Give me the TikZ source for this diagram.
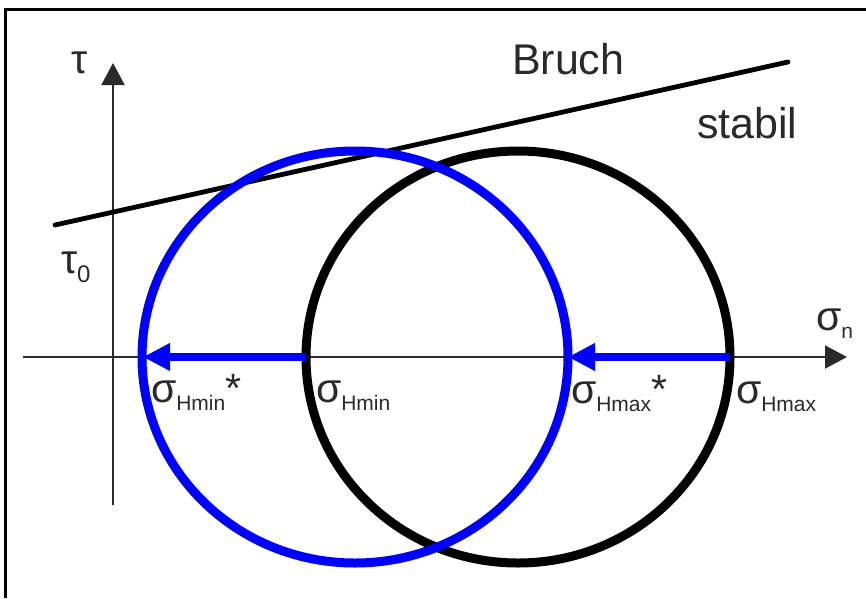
\documentclass[tikz,border=0pt]{standalone}
\usepackage{fontspec}
\setmainfont{Liberation Sans}
\usetikzlibrary{arrows.meta}
\definecolor{txt}{HTML}{2A2A2A}
\definecolor{axisc}{HTML}{2A2A2A}
\definecolor{mblue}{RGB}{0,0,255}
\newcommand{\bigf}{\fontsize{41}{45}\selectfont}
\newcommand{\subf}{\fontsize{21}{24}\selectfont}
\newcommand{\zerof}{\fontsize{24}{26}\selectfont}
\begin{document}
\begin{tikzpicture}[x=1pt,y=-1pt,
  lbl/.style={anchor=base west,inner sep=0pt,outer sep=0pt,text=txt},
  axisline/.style={draw=axisc,line width=2pt,-{Triangle[length=22pt,width=23pt]}},
  shiftarrow/.style={draw=mblue,line width=8pt,-{Triangle[length=27pt,width=26pt]}},
  frameline/.style={draw=black,line width=3pt}]
\useasboundingbox (0,0) rectangle (866,598);
% frame
\coordinate (ftl) at (5,9);
\coordinate (ftr) at (866,9);
\coordinate (fbl) at (5,598);
\draw[frameline] (ftr) -- (ftl) -- (fbl);
% axes
\coordinate (vb) at (113,505);
\coordinate (vt) at (113,63);
\coordinate (hl) at (23,357);
\coordinate (hr) at (847,357);
\draw[axisline] (vb) -- (vt);
\draw[axisline] (hl) -- (hr);
% failure line
\coordinate (b1) at (55,225);
\coordinate (b2) at (788,62);
\draw[black,line width=4.8pt,line cap=round] (b1) -- (b2);
% circles
\coordinate (c1) at (518,357);
\coordinate (c2) at (355,357);
\draw[black,line width=9pt] (c1) ellipse [x radius=212, y radius=206];
\draw[mblue,line width=9pt] (c2) ellipse [x radius=213, y radius=206];
% shift arrows
\coordinate (hmin) at (306,357);
\coordinate (hmins) at (143,357);
\coordinate (hmax) at (730,357);
\coordinate (hmaxs) at (568,357);
\draw[shiftarrow] (hmin) -- (hmins);
\draw[shiftarrow] (hmax) -- (hmaxs);
% labels
\node[lbl] (tau) at (71,73) {\bigf τ};
\node[lbl] (tau0) at (61,273) {\bigf τ\raisebox{-9pt}{\zerof 0}};
\node[lbl] (sign) at (816,330) {\bigf σ\raisebox{-8pt}{\subf n}};
\node[lbl] (bruch) at (512,74) {\fontsize{43}{48}\selectfont Bruch};
\node[lbl] (stabil) at (697,138) {\fontsize{43}{48}\selectfont stabil};
\node[lbl] (lhmins) at (151,402) {\bigf σ\raisebox{-8pt}{\subf Hmin}*};
\node[lbl] (lhmin) at (316,402) {\bigf σ\raisebox{-8pt}{\subf Hmin}};
\node[lbl] (lhmaxs) at (571,403) {\bigf σ\raisebox{-8pt}{\subf Hmax}*};
\node[lbl] (lhmax) at (736,403) {\bigf σ\raisebox{-8pt}{\subf Hmax}};
\end{tikzpicture}
\end{document}
